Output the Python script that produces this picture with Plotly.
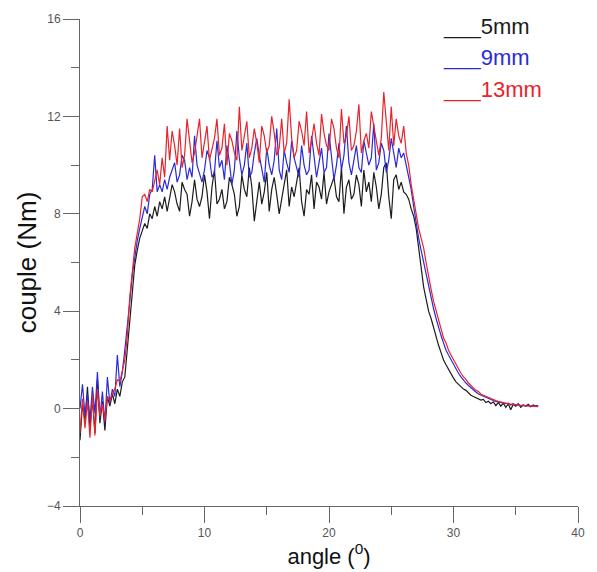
import plotly.graph_objects as go

ANGLE_STEP = 0.2  # degrees between samples

# ---------- 5 mm (black) ----------
couple_5mm = [
    # 0.0 - 1.8
    -1.3, 0.2, -0.5, 0.9, -0.8, 0.4, -1.0, 1.2, -0.6, 0.3,
    # 2.0 - 3.8
    -0.9, 0.5, 0.1, 0.6, 0.2, 0.8, 0.5, 1.1, 1.3, 2.5,
    # 4.0 - 5.8
    3.8, 4.8, 5.9, 6.5, 7.0, 7.3, 7.6, 7.4, 8.0, 7.8,
    # 6.0 - 7.0
    8.3, 7.9, 8.5, 8.2, 8.7, 8.1,
    # 7.2 - 9.0
    8.6, 9.2, 8.9, 8.4, 8.1, 9.3, 9.0, 8.8, 7.9, 8.5,
    # 9.2 - 11.0
    9.4, 8.6, 8.3, 8.7, 9.6, 8.9, 7.8, 9.1, 9.8, 8.4,
    # 11.2 - 13.0
    8.6, 9.0, 8.2, 8.5, 9.5, 9.2, 8.8, 7.9, 8.3, 9.6,
    # 13.2 - 15.0
    9.0, 8.7, 9.9, 9.1, 7.7, 8.6, 9.3, 8.4, 8.9, 9.7,
    # 15.2 - 17.0
    8.1, 9.0, 9.5, 8.8, 8.0, 8.6, 9.2, 9.8, 8.3, 9.1,
    # 17.2 - 19.0
    8.7, 9.4, 9.9, 8.5, 7.9, 9.0, 8.8, 9.6, 8.2, 9.3,
    # 19.2 - 21.0
    9.1, 8.6, 9.7, 8.4, 8.9, 9.2, 9.5, 8.7, 8.5, 9.9,
    # 21.2 - 23.0
    8.0, 9.1, 9.4, 8.6, 8.8, 9.6, 9.2, 8.3, 9.8, 8.9,
    # 23.2 - 25.0
    9.3, 8.5, 9.7, 9.1, 8.2, 8.8, 9.9, 10.1, 8.7, 7.8,
    # 25.2 - 26.0
    9.4, 9.6, 9.0, 9.3, 8.9,
    # 26.2 - 28.0
    8.8, 8.6, 8.2, 7.9, 7.4, 6.6, 5.7, 5.0, 4.5, 4.0,
    # 28.2 - 30.0
    3.7, 3.3, 2.9, 2.6, 2.3, 2.0, 1.8, 1.6, 1.4, 1.25,
    # 30.2 - 32.0
    1.1, 1.0, 0.9, 0.8, 0.75, 0.65, 0.55, 0.5, 0.45, 0.4,
    # 32.2 - 34.0
    0.35, 0.38, 0.25, 0.3, 0.2, 0.28, 0.12, 0.25, 0.1, 0.22,
    # 34.2 - 36.0
    0.05, 0.2, -0.05, 0.18, 0.1, 0.2, 0.05, 0.15, 0.1, 0.18,
    # 36.2 - 36.8
    0.08, 0.15, 0.1, 0.12,
]

# ---------- 9 mm (blue) ----------
couple_9mm = [
    0.0, 1.0, -0.3, 0.6, -0.5, 0.9, -0.2, 1.5, -0.4, 0.7,
    -0.6, 1.3, 0.2, 0.8, 0.5, 2.2, 0.9, 1.5, 2.4, 3.3,
    4.4, 5.5, 6.3, 6.9, 7.4, 7.8, 8.3, 8.0, 8.8, 9.0,
    10.4, 8.9, 9.2, 8.9, 9.4, 9.0,
    9.5, 9.8, 10.1, 9.3, 9.6, 10.4, 10.2, 9.4, 9.9, 9.5,
    11.2, 10.0, 9.6, 9.3, 9.8, 10.6, 10.3, 9.5, 9.7, 11.0,
    9.9, 10.2, 9.4, 10.8, 10.1, 9.2, 9.8, 11.4, 10.3, 9.6,
    10.0, 10.9, 9.5, 9.7, 10.5, 11.1, 10.4, 9.9, 9.3, 10.7,
    10.0, 9.6, 10.2, 11.5, 9.8, 9.4, 10.6, 10.1, 9.7, 11.0,
    10.3, 9.9, 9.5, 10.8, 10.0, 9.6, 9.8, 11.2, 10.4, 9.5,
    10.1, 10.7, 9.7, 9.9, 11.3, 10.2, 9.4, 10.0, 10.9, 9.8,
    10.4, 11.6, 10.1, 9.6, 10.2, 10.8, 9.9, 9.7, 11.0, 10.5,
    10.0, 10.3, 11.7, 9.8, 10.1, 10.9, 10.6, 9.7, 10.2, 11.1,
    10.4, 9.9, 10.7, 10.3, 10.5,
    10.0, 9.6, 9.0, 8.3, 7.6, 7.0, 6.5, 6.0, 5.5, 5.0,
    4.5, 4.1, 3.7, 3.3, 3.0, 2.7, 2.4, 2.2, 2.0, 1.8,
    1.6, 1.45, 1.3, 1.15, 1.05, 0.95, 0.85, 0.75, 0.68, 0.6,
    0.55, 0.5, 0.45, 0.4, 0.36, 0.33, 0.3, 0.27, 0.25, 0.22,
    0.2, 0.22, 0.15, 0.2, 0.12, 0.18, 0.1, 0.15, 0.1, 0.14,
    0.08, 0.12, 0.1, 0.1,
]

# ---------- 13 mm (red) ----------
couple_13mm = [
    -1.0, 0.4, -0.8, 0.3, -1.2, 0.6, -1.1, 0.8, -0.3, 0.2,
    -0.5, 0.5, 0.3, 0.6, 0.8, 1.2, 1.1, 1.6, 2.0, 3.0,
    4.6, 5.6, 6.6, 7.2, 7.8, 8.7, 8.8, 8.5, 9.0, 8.9,
    9.3, 9.8, 9.2, 10.3, 9.5, 11.6,
    10.2, 11.4, 10.8, 10.0, 11.5, 9.9, 10.4, 11.9, 11.0, 10.1,
    10.5, 11.3, 11.9, 10.3, 10.9, 11.6, 10.2, 10.6, 11.1, 11.9,
    10.4, 10.7, 11.7, 10.0, 11.3, 11.0, 10.5, 10.2, 12.4, 10.6,
    11.2, 11.8, 10.3, 10.7, 11.5, 10.9, 10.1, 11.6, 11.2, 10.5,
    10.8, 12.0, 11.3, 10.4, 10.7, 11.9, 10.5, 10.9, 12.7, 11.1,
    10.3, 10.6, 11.8, 11.4, 10.8, 12.2, 10.5, 11.0, 11.7, 10.9,
    10.4, 12.1, 11.3, 10.8, 10.6, 11.9, 11.5, 10.7, 10.3, 12.3,
    10.9, 11.2, 12.0, 10.6, 10.8, 11.4, 12.5, 10.5, 11.0, 11.3,
    10.7, 12.2, 11.6, 10.9, 10.4, 11.1, 13.0, 11.8, 10.6, 12.4,
    10.8, 11.9, 11.2, 10.9, 11.6,
    10.5, 10.0, 9.2, 8.6, 8.0, 7.4, 7.0, 6.6, 6.0, 5.4,
    4.9, 4.4, 4.0, 3.6, 3.3, 2.9, 2.7, 2.4, 2.2, 2.0,
    1.8, 1.6, 1.45, 1.3, 1.2, 1.05, 0.95, 0.85, 0.75, 0.7,
    0.6, 0.55, 0.5, 0.45, 0.4, 0.36, 0.33, 0.3, 0.27, 0.25,
    0.22, 0.2, 0.18, 0.17, 0.15, 0.14, 0.13, 0.12, 0.11, 0.1,
    0.1, 0.09, 0.08, 0.08,
]

series_names = ["5mm", "9mm", "13mm"]
series_values = [couple_5mm, couple_9mm, couple_13mm]
series_colors = ["#1c1c1c", "#2a2ad8", "#e8232b"]

x_ticks = [0, 10, 20, 30, 40]
y_ticks = [-4, 0, 4, 8, 12, 16]

FONT = "Arial, 'Liberation Sans', sans-serif"

fig = go.Figure()
for name, vals, col in zip(series_names, series_values, series_colors):
    angles = [round(i * ANGLE_STEP, 1) for i in range(len(vals))]
    fig.add_trace(go.Scatter(x=angles, y=vals, mode="lines", name=name,
                             line=dict(color=col, width=1.2), showlegend=False))

# legend drawn like the original: "___label" in the series colour
legend_y = [15.7, 14.4, 13.1]
for name, col, ly in zip(series_names, series_colors, legend_y):
    fig.add_annotation(x=29.0, y=ly, xref="x", yref="y", text="___" + name,
                       showarrow=False, xanchor="left", yanchor="middle",
                       font=dict(family=FONT, size=22, color=col))

axis_common = dict(
    showgrid=False, zeroline=False, showline=True, linecolor="#666666", linewidth=1,
    ticks="outside", ticklen=16, tickcolor="#666666", tickwidth=1,
    tickfont=dict(family=FONT, size=12, color="#555555"),
    mirror=False,
)

fig.update_xaxes(range=[0, 40], tickvals=x_ticks,
                 minor=dict(ticks="outside", ticklen=8, dtick=5, tickcolor="#666666"),
                 title=dict(text="angle (<sup>0</sup>)", standoff=4,
                            font=dict(family=FONT, size=22, color="#111111")),
                 **axis_common)
fig.update_yaxes(range=[-4, 16], tickvals=y_ticks,
                 minor=dict(ticks="outside", ticklen=8, dtick=2, tickcolor="#666666"),
                 title=dict(text="couple (Nm)", standoff=2,
                            font=dict(family=FONT, size=26, color="#111111")),
                 **axis_common)

fig.update_layout(
    width=597, height=572,
    margin=dict(l=80, r=19, t=19, b=64),
    plot_bgcolor="white", paper_bgcolor="white",
    font=dict(family=FONT),
)

fig.write_html("out.html")
